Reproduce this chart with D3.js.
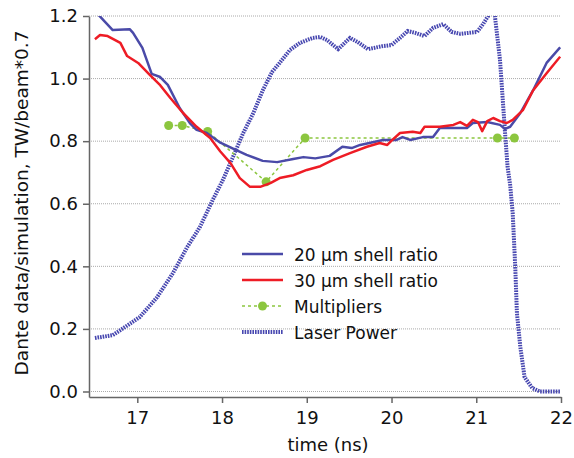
<!DOCTYPE html>
<html>
<head>
<meta charset="utf-8">
<script src="https://cdn.jsdelivr.net/npm/d3@7"></script>
<style>
  body { margin: 0; background: #fff; }
  text { font-family: "DejaVu Sans", sans-serif; fill: #111; }
  .grid line { stroke: #aaa; stroke-dasharray: 1,1; }
  .axis path, .axis line { stroke: #666; stroke-width: 1.5; }
</style>
</head>
<body>
<div id="chart"></div>
<script>
// time (ns) / value pairs
const shell20T = [16.52, 16.71, 16.91, 16.95, 17.06, 17.17, 17.27, 17.36, 17.5, 17.62, 17.7, 17.82, 17.98, 18.13, 18.29, 18.48, 18.65, 18.84, 18.96, 19.1, 19.27, 19.42, 19.53, 19.63, 19.9, 20.06, 20.13, 20.22, 20.37, 20.49, 20.57, 20.73, 20.89, 20.96, 21.13, 21.28, 21.34, 21.4, 21.52, 21.67, 21.83, 21.99];
const shell20V = [1.21, 1.155, 1.158, 1.146, 1.098, 1.015, 1.005, 0.98, 0.906, 0.858, 0.836, 0.826, 0.795, 0.776, 0.756, 0.737, 0.733, 0.743, 0.749, 0.745, 0.753, 0.782, 0.778, 0.788, 0.804, 0.804, 0.813, 0.804, 0.813, 0.813, 0.842, 0.842, 0.842, 0.858, 0.861, 0.852, 0.839, 0.846, 0.89, 0.962, 1.05, 1.1];

const shell30T = [16.5, 16.56, 16.65, 16.8, 16.88, 17.01, 17.15, 17.27, 17.39, 17.54, 17.7, 17.86, 17.98, 18.1, 18.21, 18.33, 18.45, 18.57, 18.68, 18.84, 19.0, 19.16, 19.31, 19.51, 19.71, 19.86, 19.95, 20.01, 20.1, 20.25, 20.34, 20.39, 20.57, 20.73, 20.81, 20.89, 20.96, 21.02, 21.07, 21.13, 21.2, 21.28, 21.36, 21.43, 21.55, 21.67, 21.83, 21.99];
const shell30V = [1.126, 1.139, 1.136, 1.114, 1.072, 1.05, 1.011, 0.979, 0.938, 0.89, 0.846, 0.81, 0.767, 0.73, 0.682, 0.654, 0.654, 0.666, 0.682, 0.691, 0.708, 0.72, 0.74, 0.762, 0.782, 0.794, 0.788, 0.804, 0.826, 0.83, 0.826, 0.846, 0.846, 0.852, 0.861, 0.849, 0.868, 0.861, 0.832, 0.864, 0.874, 0.864, 0.858, 0.868, 0.899, 0.962, 1.017, 1.07];

const multT = [17.37, 17.53, 17.83, 18.52, 18.98, 21.25, 21.45];
const multV = [0.85, 0.85, 0.831, 0.67, 0.81, 0.81, 0.81];

const laserT = [16.5, 16.71, 16.8, 17.03, 17.23, 17.42, 17.59, 17.74, 17.89, 18.01, 18.13, 18.25, 18.37, 18.48, 18.59, 18.68, 18.8, 18.92, 19.07, 19.16, 19.24, 19.37, 19.51, 19.6, 19.72, 19.9, 20.0, 20.1, 20.19, 20.28, 20.39, 20.49, 20.61, 20.71, 20.81, 21.01, 21.08, 21.14, 21.18, 21.22, 21.28, 21.34, 21.37, 21.4, 21.43, 21.46, 21.48, 21.52, 21.57, 21.66, 21.75, 21.99];
const laserV = [0.171, 0.18, 0.196, 0.238, 0.3, 0.378, 0.462, 0.526, 0.612, 0.676, 0.75, 0.826, 0.89, 0.962, 1.021, 1.05, 1.091, 1.114, 1.13, 1.133, 1.123, 1.094, 1.13, 1.117, 1.094, 1.104, 1.107, 1.13, 1.152, 1.146, 1.136, 1.162, 1.174, 1.149, 1.143, 1.149, 1.174, 1.2, 1.23, 1.2, 1.06, 0.826, 0.717, 0.66, 0.57, 0.399, 0.25, 0.142, 0.046, 0.011, 0.0, 0.0];

const xTicks = [17, 18, 19, 20, 21, 22];
const yTicks = [0, 0.2, 0.4, 0.6, 0.8, 1.0, 1.2];

const legendNames = ["20 \u03bcm shell ratio", "30 \u03bcm shell ratio", "Multipliers", "Laser Power"];

const width = 574, height = 458;
const margin = { top: 16, right: 13, bottom: 61, left: 89 };
const plot_width = width - margin.left - margin.right;
const plot_height = height - margin.top - margin.bottom;

const blue = "#4a4aa8", red = "#ee1c25", green = "#8cc63f";

const svg = d3.select("#chart").append("svg")
  .attr("width", width).attr("height", height);

const plot = svg.append("g")
  .attr("transform", `translate(${margin.left},${margin.top})`);

const x = d3.scaleLinear().domain([16.43, 22]).range([0, plot_width]);
const y = d3.scaleLinear().domain([-0.0176, 1.2]).range([plot_height, 0]);

svg.append("defs").append("clipPath").attr("id", "clip")
  .append("rect").attr("width", plot_width).attr("height", plot_height);

// gridlines
plot.append("g").attr("class", "grid")
  .selectAll("line").data(yTicks).join("line")
  .attr("x1", 0).attr("x2", plot_width)
  .attr("y1", d => y(d)).attr("y2", d => y(d));

// axes
plot.append("g").attr("class", "axis")
  .attr("transform", `translate(0,${plot_height})`)
  .call(d3.axisBottom(x).tickValues(xTicks).tickSize(6).tickSizeOuter(0).tickPadding(8).tickFormat(d3.format("d")))
  .call(g => g.selectAll("text").style("font-size", "18px").attr("fill", "#111"));

plot.append("g").attr("class", "axis")
  .call(d3.axisLeft(y).tickValues(yTicks).tickSize(6).tickSizeOuter(0).tickPadding(5).tickFormat(d3.format(".1f")))
  .call(g => g.selectAll("text").style("font-size", "18px").attr("fill", "#111"));

// series
const lineGen = (ts, vs) => d3.line()
  .x(i => x(ts[i])).y(i => y(vs[i]))(d3.range(ts.length));

const series = plot.append("g").attr("clip-path", "url(#clip)");

series.append("path")
  .attr("d", lineGen(laserT, laserV))
  .attr("fill", "none").attr("stroke", "#4747b0")
  .attr("stroke-width", 4).attr("stroke-dasharray", "1.6,1");

series.append("path")
  .attr("d", lineGen(multT, multV))
  .attr("fill", "none").attr("stroke", green)
  .attr("stroke-width", 1.5).attr("stroke-dasharray", "3,3");

series.selectAll("circle.mult").data(d3.range(multT.length)).join("circle")
  .attr("class", "mult")
  .attr("cx", i => x(multT[i])).attr("cy", i => y(multV[i]))
  .attr("r", 4.5).attr("fill", green);

series.append("path")
  .attr("d", lineGen(shell20T, shell20V))
  .attr("fill", "none").attr("stroke", blue).attr("stroke-width", 2.5)
  .attr("stroke-linejoin", "round");

series.append("path")
  .attr("d", lineGen(shell30T, shell30V))
  .attr("fill", "none").attr("stroke", red).attr("stroke-width", 2.5)
  .attr("stroke-linejoin", "round");

// axis labels
svg.append("text")
  .attr("x", 328).attr("y", 451)
  .attr("text-anchor", "middle").style("font-size", "18px")
  .text("time (ns)");

svg.append("text")
  .attr("transform", "rotate(-90)")
  .attr("x", -203).attr("y", 28)
  .attr("text-anchor", "middle").style("font-size", "18.5px")
  .text("Dante data/simulation, TW/beam*0.7");

// legend
const legend = svg.append("g").attr("transform", "translate(242,254)");
legendNames.forEach((name, i) => {
  const row = legend.append("g").attr("transform", `translate(0,${i * 26})`);
  const ln = row.append("line").attr("x1", 0).attr("x2", 41).attr("y1", 0).attr("y2", 0);
  if (i === 0) ln.attr("stroke", blue).attr("stroke-width", 2.5);
  if (i === 1) ln.attr("stroke", red).attr("stroke-width", 2.5);
  if (i === 2) {
    ln.attr("stroke", green).attr("stroke-width", 1.5).attr("stroke-dasharray", "3,3");
    row.append("circle").attr("cx", 20.5).attr("cy", 0).attr("r", 4.5).attr("fill", green);
  }
  if (i === 3) ln.attr("stroke", "#4747b0").attr("stroke-width", 4).attr("stroke-dasharray", "1.6,1");
  row.append("text").attr("x", 52).attr("y", 6.5)
    .style("font-size", "17px").text(name);
});
</script>
</body>
</html>
